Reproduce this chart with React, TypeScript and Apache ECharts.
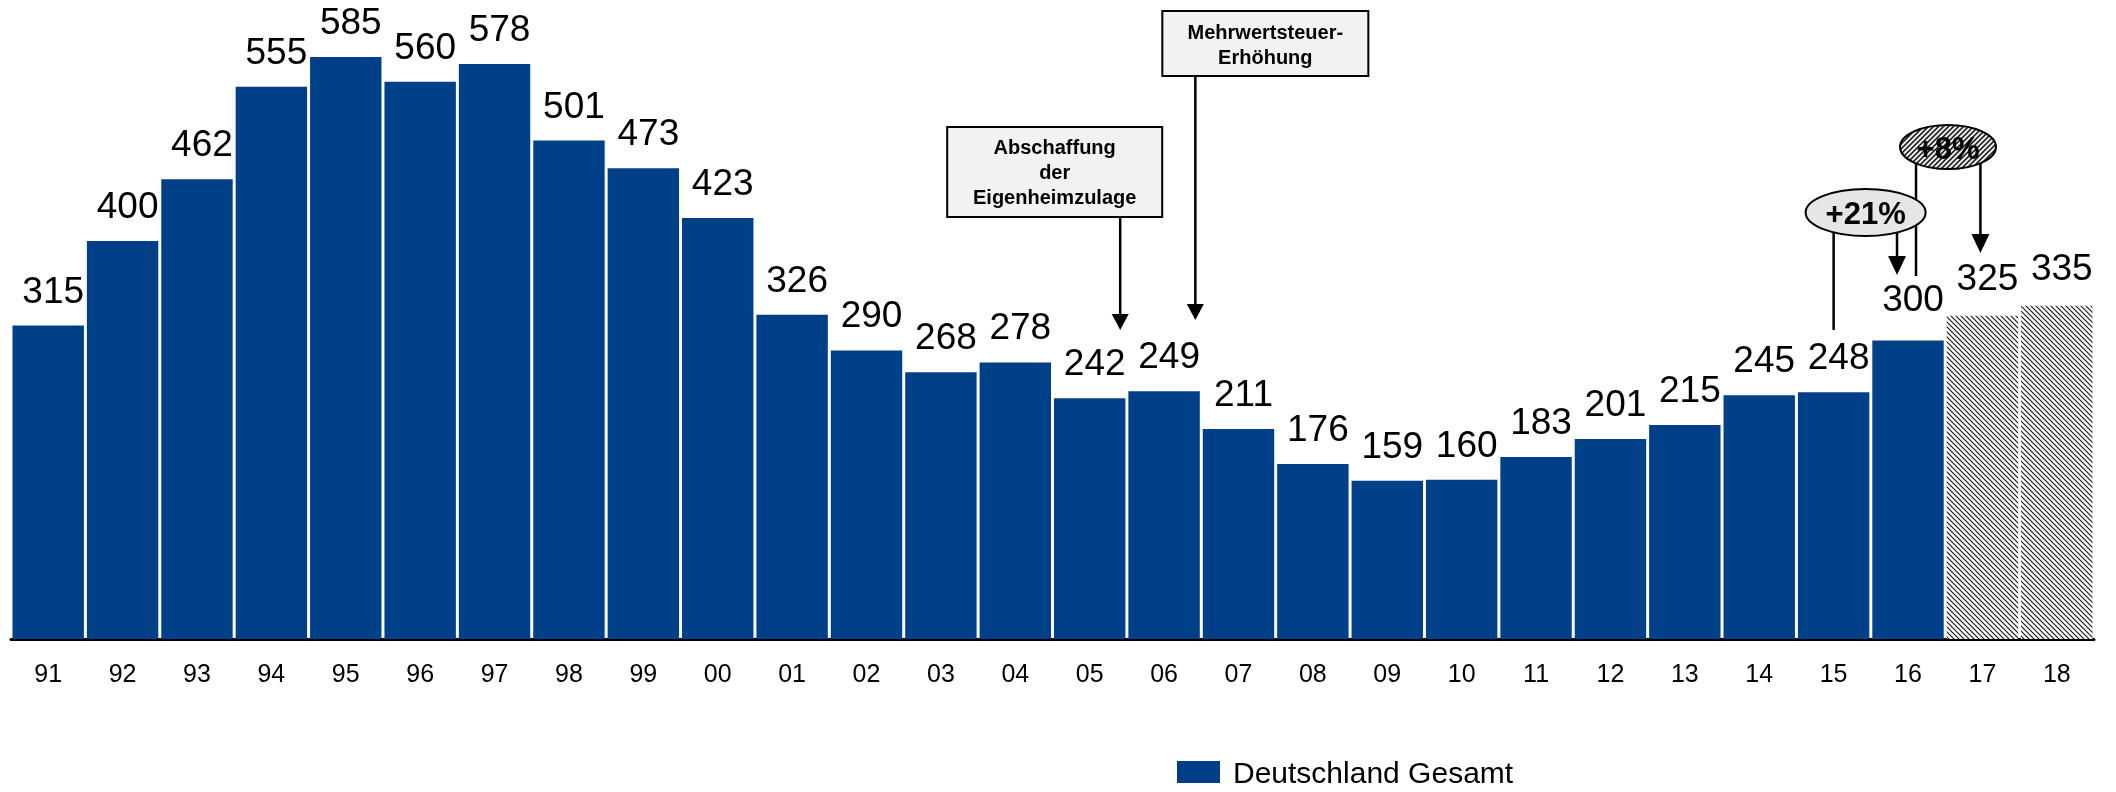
import React, { useEffect, useRef } from "react";
import * as echarts from "echarts";

// ---- data ----
const categories = ["91","92","93","94","95","96","97","98","99","00","01","02","03","04","05","06","07","08","09","10","11","12","13","14","15","16","17","18"];
const values = [315,400,462,555,585,560,578,501,473,423,326,290,268,278,242,249,211,176,159,160,183,201,215,245,248,300,325,335];
const forecastCategories = ["17","18"];
const seriesName = "Deutschland Gesamt";
const noteAbschaffung = "Abschaffung\nder\nEigenheimzulage";
const noteMwSt = "Mehrwertsteuer-\nErhöhung";
const growth1 = "+21%";
const growth2 = "+8%";

const FONT = '"Liberation Sans", Arial, Helvetica, sans-serif';
const BLUE = "#004088";

function hatchUrl(dir: string, p: number, sw: number, bg: string, fg: string) {
  const d =
    dir === "back"
      ? `M-1,-1L${p + 1},${p + 1}M-1,${p - 1}L1,${p + 1}M${p - 1},-1L${p + 1},1`
      : `M-1,${p + 1}L${p + 1},-1M-1,1L1,-1M${p - 1},${p + 1}L${p + 1},${p - 1}`;
  const svg = `<svg xmlns="http://www.w3.org/2000/svg" width="${p}" height="${p}"><rect width="${p}" height="${p}" fill="${bg}"/><path d="${d}" stroke="${fg}" stroke-width="${sw}" fill="none"/></svg>`;
  return "data:image/svg+xml;charset=utf-8," + encodeURIComponent(svg);
}

export default function App() {
  const ref = useRef<HTMLDivElement>(null);
  useEffect(() => {
    if (!ref.current) return;
    const chart = echarts.init(ref.current, undefined, { renderer: "svg" });
    const barHatch = { image: hatchUrl("back", 5, 1.1, "#ffffff", "#111111"), repeat: "repeat", imageWidth: 5, imageHeight: 5 };
    const ellHatch = { image: hatchUrl("fwd", 5, 1.5, "#e8e8e8", "#111111"), repeat: "repeat", imageWidth: 5, imageHeight: 5 };

    const data = values.map((v, i) => {
      const cat = categories[i];
      if (forecastCategories.includes(cat)) {
        return { value: v, itemStyle: { color: barHatch }, label: { distance: 20 } };
      }
      if (cat === "16") return { value: v, label: { distance: 24 } };
      return v;
    });

    chart.setOption({
      animation: false,
      grid: { left: 11, right: 22, top: 42, bottom: 153, containLabel: false },
      legend: {
        show: true,
        data: [seriesName],
        left: 1172,
        top: 752,
        icon: "rect",
        itemWidth: 43,
        itemHeight: 22,
        selectedMode: false,
        textStyle: { fontFamily: FONT, fontSize: 30, color: "#000", padding: [0, 0, 0, 8] },
      },
      xAxis: {
        type: "category",
        data: categories,
        axisLine: { show: true, lineStyle: { color: "#000", width: 3 } },
        axisTick: { show: false },
        axisLabel: { fontFamily: FONT, fontSize: 25, color: "#000", margin: 21, interval: 0 },
      },
      yAxis: { type: "value", min: 0, max: 600, show: false, splitLine: { show: false } },
      series: [
        {
          name: seriesName,
          type: "bar",
          data,
          barCategoryGap: "4%",
          itemStyle: { color: BLUE, borderWidth: 0 },
          label: {
            show: true,
            position: "top",
            distance: 17,
            offset: [5, 0],
            fontFamily: FONT,
            fontSize: 37,
            color: "#000",
          },
        },
      ],
    });

    const cx = (i: number) => chart.convertToPixel({ xAxisIndex: 0 }, categories[i]) as number;
    const pitch = cx(1) - cx(0);
    const idx = (c: string) => categories.indexOf(c);

    const arrow = (x: number, y1: number, y2: number, hw = 8.5, hh = 16) => [
      { type: "line", z: 10, shape: { x1: x, y1, x2: x, y2: y2 - hh + 1 }, style: { stroke: "#000", lineWidth: 2.5 } },
      { type: "polygon", z: 10, shape: { points: [[x - hw, y2 - hh], [x + hw, y2 - hh], [x, y2]] }, style: { fill: "#000" } },
    ];
    const line = (x: number, y1: number, y2: number) => ({
      type: "line", z: 10, shape: { x1: x, y1, x2: x, y2 }, style: { stroke: "#000", lineWidth: 2.5 },
    });

    const graphics: any[] = [];
    // Abschaffung der Eigenheimzulage
    const a1 = cx(idx("05")) + 0.41 * pitch;
    graphics.push({ type: "rect", z: 11, shape: { x: a1 - 173, y: 127, width: 215, height: 90 }, style: { fill: "#f2f2f2", stroke: "#000", lineWidth: 2 } });
    graphics.push({ type: "text", z: 12, x: a1 - 65.5, y: 172, style: { text: noteAbschaffung, font: `bold 20px ${FONT}`, lineHeight: 25, align: "center", verticalAlign: "middle", fill: "#000" } });
    graphics.push(...arrow(a1, 217, 330));
    // Mehrwertsteuer-Erhöhung
    const a2 = cx(idx("06")) + 0.42 * pitch;
    graphics.push({ type: "rect", z: 11, shape: { x: a2 - 33, y: 11, width: 206, height: 65 }, style: { fill: "#f2f2f2", stroke: "#000", lineWidth: 2 } });
    graphics.push({ type: "text", z: 12, x: a2 + 70, y: 44, style: { text: noteMwSt, font: `bold 20px ${FONT}`, lineHeight: 25, align: "center", verticalAlign: "middle", fill: "#000" } });
    graphics.push(...arrow(a2, 76, 320));
    // +21%
    const c15 = cx(idx("15"));
    const c16 = cx(idx("16"));
    const c17 = cx(idx("17"));
    const e1x = c15 + 32;
    graphics.push(line(c15, 212, 330));
    graphics.push(...arrow(c16 - 11, 212, 275, 9, 19));
    graphics.push({ type: "ellipse", z: 12, shape: { cx: e1x, cy: 212.5, rx: 60, ry: 23.5 }, style: { fill: "#e6e6e6", stroke: "#000", lineWidth: 2 } });
    graphics.push({ type: "text", z: 13, x: e1x, y: 213, style: { text: growth1, font: `bold 31px ${FONT}`, align: "center", verticalAlign: "middle", fill: "#000" } });
    // +8%
    const e2x = c16 + 40;
    graphics.push(line(c16 + 8, 147, 276));
    graphics.push(...arrow(c17 - 2, 147, 253, 9, 19));
    graphics.push({ type: "ellipse", z: 12, shape: { cx: e2x, cy: 147, rx: 48, ry: 22 }, style: { fill: ellHatch, stroke: "#000", lineWidth: 2 } });
    graphics.push({ type: "text", z: 13, x: e2x, y: 148, style: { text: growth2, font: `bold 31px ${FONT}`, align: "center", verticalAlign: "middle", fill: "#000" } });

    chart.setOption({ graphic: graphics });

    return () => chart.dispose();
  }, []);
  return <div ref={ref} style={{ position: "fixed", left: 0, top: 0, width: 2116, height: 792 }} />;
}
